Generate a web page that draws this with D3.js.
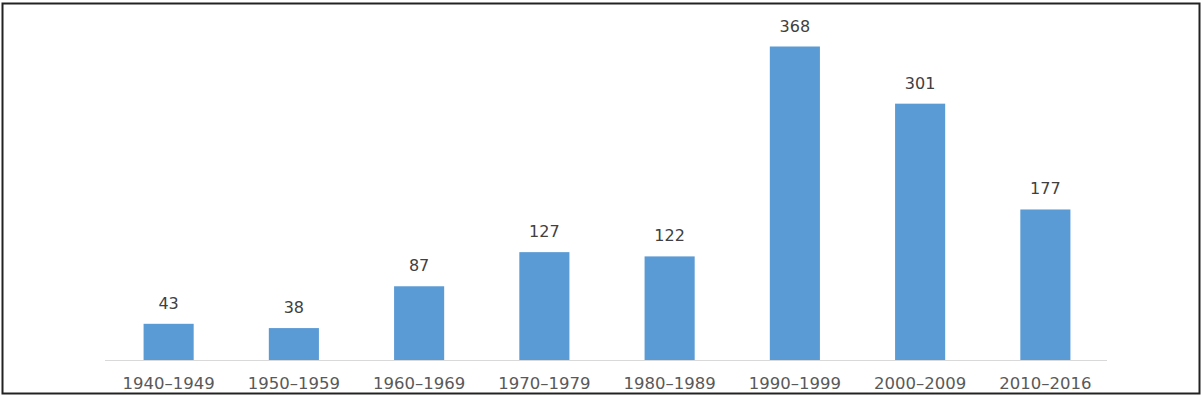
<!DOCTYPE html>
<html>
<head>
<meta charset="utf-8">
<script src="https://cdn.jsdelivr.net/npm/d3@7"></script>
<style>
  html, body { margin: 0; padding: 0; background: #fff; }
  svg { display: block; }
</style>
</head>
<body>
<svg id="chart" width="1202" height="396"></svg>
<script>
// decades and counts
var decades = ['1940–1949', '1950–1959', '1960–1969', '1970–1979',
               '1980–1989', '1990–1999', '2000–2009', '2010–2016'];
var counts = [43, 38, 87, 127, 122, 368, 301, 177];

var svg = d3.select('#chart');
var W = 1202, H = 396;

// outer frame
svg.append('rect')
  .attr('x', 2.5).attr('y', 3.5)
  .attr('width', W - 5).attr('height', H - 6)
  .attr('fill', '#fff').attr('stroke', '#222').attr('stroke-width', 2);

var x = d3.scaleBand().domain(decades).range([106, 1108]).paddingInner(0.6).paddingOuter(0.3);
var y = d3.scaleLinear().domain([0, 368]).range([360.5, 46.5]);

var rows = decades.map(function(d, i) { return {decade: d, value: counts[i]}; });

svg.selectAll('rect.bar').data(rows).enter().append('rect')
  .attr('class', 'bar')
  .attr('x', function(d) { return x(d.decade); })
  .attr('y', function(d) { return y(d.value); })
  .attr('width', x.bandwidth())
  .attr('height', function(d) { return y(0) - y(d.value); })
  .attr('fill', '#5b9bd5');

// axis line
svg.append('line')
  .attr('x1', 105).attr('x2', 1107)
  .attr('y1', 360.5).attr('y2', 360.5)
  .attr('stroke', '#d9d9d9').attr('stroke-width', 1);

svg.selectAll('text.val').data(rows).enter().append('text')
  .attr('class', 'val')
  .attr('x', function(d) { return x(d.decade) + x.bandwidth() / 2; })
  .attr('y', function(d) { return y(d.value) - 15; })
  .attr('text-anchor', 'middle')
  .attr('font-family', 'DejaVu Sans, sans-serif')
  .attr('font-size', 16)
  .attr('fill', '#404040')
  .text(function(d) { return d.value; });

svg.selectAll('text.cat').data(rows).enter().append('text')
  .attr('class', 'cat')
  .attr('x', function(d) { return x(d.decade) + x.bandwidth() / 2; })
  .attr('y', 389)
  .attr('text-anchor', 'middle')
  .attr('font-family', 'DejaVu Sans, sans-serif')
  .attr('font-size', 16.5)
  .attr('fill', '#595959')
  .text(function(d) { return d.decade; });
</script>
</body>
</html>
